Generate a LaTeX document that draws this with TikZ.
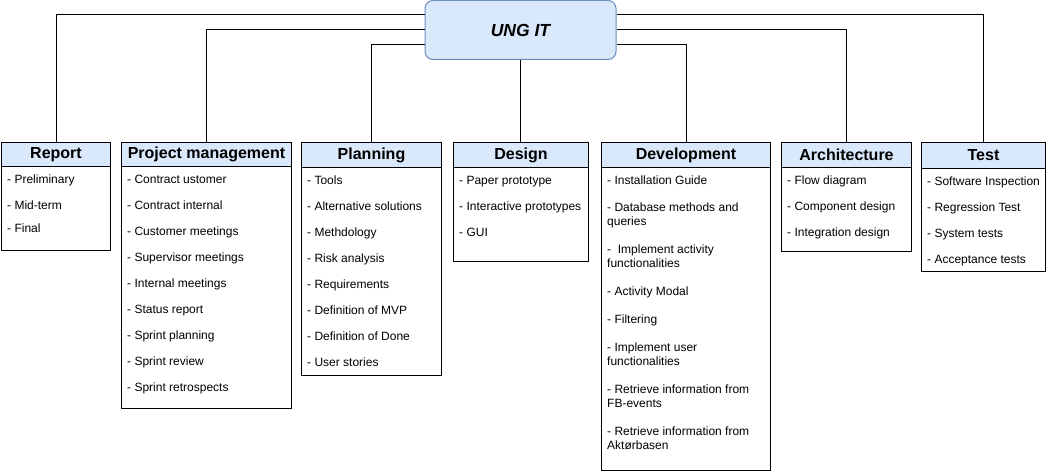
\documentclass[tikz,border=0pt]{standalone}
\usepackage{fontspec}
\setmainfont{Liberation Sans}
\definecolor{hdrfill}{HTML}{DAE8FC}
\definecolor{rootdraw}{HTML}{6C8EBF}
\tikzset{
  hdr/.style={draw=black, fill=hdrfill, line width=1pt, inner sep=0pt, anchor=north west,
    font=\fontsize{16}{18}\selectfont\bfseries},
  bodybox/.style={draw=black, fill=white, line width=1pt, inner sep=0pt, anchor=north west},
  item/.style={anchor=base west, inner sep=0pt, font=\fontsize{12}{14}\selectfont},
  rootbox/.style={draw=rootdraw, fill=hdrfill, line width=1pt, rounded corners=8pt,
    minimum width=191pt, minimum height=59pt, inner sep=0pt,
    font=\fontsize{17.5}{20}\selectfont\bfseries\itshape},
  conn/.style={draw=black, line width=1pt}
}
\newcommand\wbsbox[6]{%
  \node[hdr, minimum width=#3-#2, minimum height=#4-142] (#1) at (#2,142) {#6};
  \node[bodybox, minimum width=#3-#2, minimum height=#5-#4] (#1b) at (#2,#4) {};
}
\newcommand\wbsitems[3]{%
  \foreach \yy/\txt [count=\i] in {#3} \node[item] (#1-\i) at (#2+6,\yy+4.5) {\txt};
}
\begin{document}
\begin{tikzpicture}[x=1pt,y=-1pt]
\useasboundingbox (0,0) rectangle (1047,476);
\node[rootbox] (root) at (520.5,30) {UNG IT};

\wbsbox{rep}{1}{110}{166}{250}{Report}
\wbsbox{pm}{121}{291}{166}{408}{Project management}
\wbsbox{plan}{301}{441}{167}{375}{Planning}
\wbsbox{des}{453}{588}{167}{261}{Design}
\wbsbox{dev}{601}{770}{167}{470}{Development}
\wbsbox{arch}{781}{911}{167}{251}{Architecture}
\wbsbox{test}{921}{1045}{168}{271}{Test}

\wbsitems{rep}{1}{179/- Preliminary, 205/- Mid-term, 228/- Final}
\wbsitems{pm}{121}{179/- Contract ustomer, 205/- Contract internal, 231/- Customer meetings,
  257/- Supervisor meetings, 283/- Internal meetings, 309/- Status report,
  335/- Sprint planning, 361/- Sprint review, 387/- Sprint retrospects}
\wbsitems{plan}{301}{180/- Tools, 206/- Alternative solutions, 232/- Methdology,
  258/- Risk analysis, 284/- Requirements, 310/- Definition of MVP,
  336/- Definition of Done, 362/- User stories}
\wbsitems{des}{453}{180/- Paper prototype, 206/- Interactive prototypes, 232/- GUI}
\wbsitems{dev}{601}{180/- Installation Guide, 207/- Database methods and, 221/queries,
  249/- \ Implement activity, 263/functionalities, 291/- Activity Modal, 319/- Filtering,
  347/- Implement user, 361/functionalities, 389/- Retrieve information from, 403/FB-events,
  431/- Retrieve information from, 445/Aktørbasen}
\wbsitems{arch}{781}{180/- Flow diagram, 206/- Component design, 232/- Integration design}
\wbsitems{test}{921}{181/- Software Inspection, 207/- Regression Test, 233/- System tests,
  259/- Acceptance tests}

\draw[conn] ([yshift=15pt]root.west) -| (rep.north);
\draw[conn] (root.west) -| (pm.north);
\draw[conn] ([yshift=-15pt]root.west) -| (plan.north);
\draw[conn] (root.south) -- (root.south |- des.north);
\draw[conn] ([yshift=-15pt]root.east) -| (dev.north);
\draw[conn] (root.east) -| (arch.north);
\draw[conn] ([yshift=15pt]root.east) -| (test.north);
\end{tikzpicture}
\end{document}
